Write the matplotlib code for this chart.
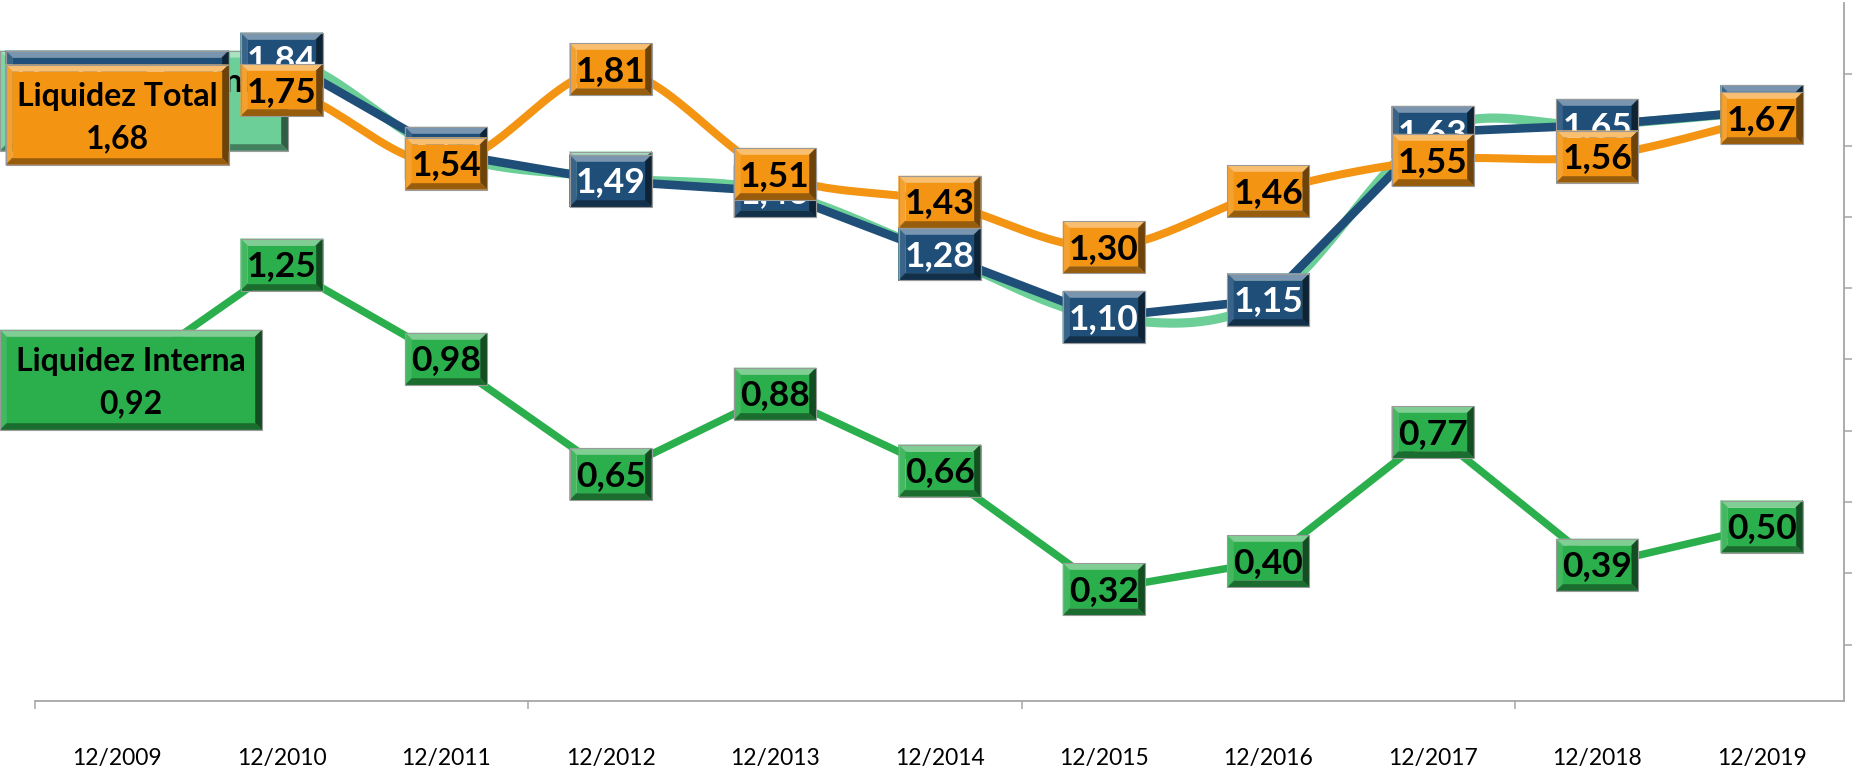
import matplotlib
matplotlib.use("Agg")
import numpy as np
import matplotlib.pyplot as plt
from matplotlib.patches import Polygon
from matplotlib.colors import to_rgb
from matplotlib.transforms import blended_transform_factory

# -------------------
# Data
# -------------------
categories = ["12/2009", "12/2010", "12/2011", "12/2012", "12/2013", "12/2014",
              "12/2015", "12/2016", "12/2017", "12/2018", "12/2019"]
liq_corrente = [1.72, 1.84, 1.57, 1.50, 1.46, 1.28, 1.10, 1.15, 1.63, 1.65, 1.69]
liq_geral = [1.72, 1.84, 1.57, 1.49, 1.46, 1.28, 1.10, 1.15, 1.63, 1.65, 1.69]
liq_interna = [0.92, 1.25, 0.98, 0.65, 0.88, 0.66, 0.32, 0.40, 0.77, 0.39, 0.50]
liq_total = [1.68, 1.75, 1.54, 1.81, 1.51, 1.43, 1.30, 1.46, 1.55, 1.56, 1.67]

W, H, DPI = 1853, 775, 100
FONT = "Lato"
GRAY = "#A6A6A6"

# series: name, values, colour, text colour, smoothed, line width, name box width
series = [
    ("Liquidez Corrente", liq_corrente, "#6CCF97", "black", True, 6.6, 288),
    ("Liquidez Geral", liq_geral, "#1F4E79", "white", False, 6.2, 223),
    ("Liquidez Interna", liq_interna, "#2BAE4C", "black", False, 5.4, 262),
    ("Liquidez Total", liq_total, "#F39413", "black", True, 5.8, 223),
]


def smooth(x, y, n=30):
    # excel style smoothed line (bezier through the points)
    pts = np.column_stack([x, y]).astype(float)
    P = np.vstack([pts[0], pts, pts[-1]])
    out = []
    t = np.linspace(0, 1, n)[:, None]
    for i in range(len(pts) - 1):
        p0, p1, p2, p3 = P[i], P[i + 1], P[i + 2], P[i + 3]
        c1 = p1 + (p2 - p0) / 6
        c2 = p2 - (p3 - p1) / 6
        seg = (1 - t) ** 3 * p1 + 3 * (1 - t) ** 2 * t * c1 + 3 * (1 - t) * t ** 2 * c2 + t ** 3 * p2
        out.append(seg if i == 0 else seg[1:])
    out = np.vstack(out)
    return out[:, 0], out[:, 1]


fig = plt.figure(figsize=(W / DPI, H / DPI), dpi=DPI)
ax = fig.add_axes([35 / W, 1 - 701 / H, (1844 - 35) / W, (701 - 3) / H])
ax.set_xlim(-0.5, 10.5)
ax.set_ylim(0, 2.0)
for s in ["top", "left", "right"]:
    ax.spines[s].set_visible(False)
ax.spines["bottom"].set_color(GRAY)
ax.spines["bottom"].set_linewidth(1.3)
ax.set_yticks([])
ax.set_xticks(np.arange(-0.5, 10.5, 3))
ax.set_xticklabels([])
ax.tick_params(axis="x", direction="out", length=6, width=1.1, color=GRAY)

ax2 = ax.twinx()
ax2.set_ylim(-0.79, 9.0)
ax2.set_yticks(range(0, 9))
ax2.set_yticklabels([])
for s in ["top", "left", "bottom"]:
    ax2.spines[s].set_visible(False)
ax2.spines["right"].set_color(GRAY)
ax2.spines["right"].set_linewidth(1.3)
ax2.tick_params(axis="y", direction="out", length=6, width=1.1, color=GRAY)

trans = blended_transform_factory(ax.transData, ax.transAxes)
for i, c in enumerate(categories):
    ax.text(i, -0.082, c, transform=trans, ha="center", va="center",
            fontsize=16.5, family=FONT, color="black")

x = np.arange(len(categories))
for k, (name, vals, col, tcol, smoothed, lw, bw) in enumerate(series):
    if smoothed:
        xs, ys = smooth(x, vals)
    else:
        xs, ys = x, vals
    ax.plot(xs, ys, color=col, lw=lw, solid_capstyle="butt", zorder=2 + k, clip_on=False)


def bevel_box(cx, cy, w, h, face, z, b=7):
    x0, x1 = cx - w / 2, cx + w / 2
    if x0 < 0:
        x0, x1 = 0, w
    y0, y1 = cy - h / 2, cy + h / 2
    f = np.array(to_rgb(face))
    light = f + (1 - f) * 0.4
    left = f + (1 - f) * 0.12
    right = f * 0.45
    bottom = f * 0.62
    facets = [
        ([(x0, y1), (x1, y1), (x1 - b, y1 - b), (x0 + b, y1 - b)], light),
        ([(x0, y0), (x0 + b, y0 + b), (x0 + b, y1 - b), (x0, y1)], left),
        ([(x1, y0), (x1, y1), (x1 - b, y1 - b), (x1 - b, y0 + b)], right),
        ([(x0, y0), (x1, y0), (x1 - b, y0 + b), (x0 + b, y0 + b)], bottom),
        ([(x0 + b, y0 + b), (x1 - b, y0 + b), (x1 - b, y1 - b), (x0 + b, y1 - b)], f),
    ]
    for pts, c in facets:
        fig.add_artist(Polygon(np.array(pts) / [W, H], closed=True, transform=fig.transFigure,
                               facecolor=c, edgecolor=c, lw=0.3, zorder=z))
    outline = [(x0, y0), (x1, y0), (x1, y1), (x0, y1)]
    fig.add_artist(Polygon(np.array(outline) / [W, H], closed=True, transform=fig.transFigure,
                           facecolor="none", edgecolor="#9a9a9a", lw=0.8, zorder=z))
    return (x0 + x1) / 2


def fmt(v):
    return f"{v:.2f}".replace(".", ",")


fig.canvas.draw()
for k, (name, vals, col, tcol, smoothed, lw, bw) in enumerate(series):
    z = 10 + k
    for i, v in enumerate(vals):
        px, py = ax.transData.transform((i, v))
        if i == 0:
            cx = bevel_box(px, py, bw, 100, col, z)
            fig.text(cx / W, py / H - 0.004, f"{name}\n{fmt(v)}", ha="center", va="center",
                     fontsize=23, fontweight="bold", family=FONT, color=tcol,
                     linespacing=1.55, zorder=z + 0.5)
        else:
            bevel_box(px, py, 82, 52, col, z)
            fig.text(px / W, py / H - 0.002, fmt(v), ha="center", va="center",
                     fontsize=25.5, fontweight="bold", family=FONT, color=tcol, zorder=z + 0.5)

fig.savefig("out.png", dpi=DPI)
